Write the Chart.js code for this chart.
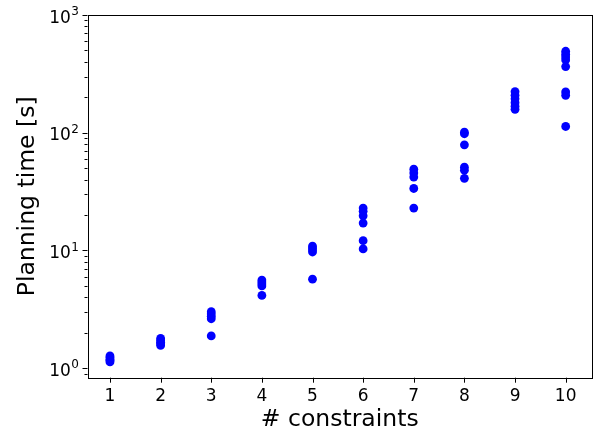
<!DOCTYPE html>
<html>
<head>
<meta charset="utf-8">
<script src="https://cdn.jsdelivr.net/npm/chart.js@4.4.0/dist/chart.umd.min.js"></script>
<style>
  html, body { margin: 0; padding: 0; background: #fff; }
  #wrap { width: 597px; height: 434px; }
</style>
</head>
<body>
<div id="wrap"><canvas id="chart" width="597" height="434"></canvas></div>
<script>
// 约束数量
const constraints = [1, 2, 3, 4, 5, 6, 7, 8, 9, 10];

// 每个约束数量下的规划时间 [s]
const times1 = [1.27, 1.23, 1.19, 1.16, 1.13];
const times2 = [1.79, 1.72, 1.66, 1.61, 1.56];
const times3 = [3.02, 2.88, 2.76, 2.63, 1.88];
const times4 = [5.6, 5.4, 5.2, 5.0, 4.15];
const times5 = [10.9, 10.5, 10.1, 9.7, 5.7];
const times6 = [22.9, 21.5, 19.7, 17.1, 12.1, 10.3];
const times7 = [49, 45.5, 42, 33.6, 22.9];
const times8 = [101, 98, 79, 51, 48, 41];
const times9 = [223, 208, 194, 180, 168, 158];
const times10 = [492, 465, 440, 415, 365, 222, 208, 113];
const timesByCount = [times1, times2, times3, times4, times5, times6, times7, times8, times9, times10];

// 坐标轴刻度
const yMajorTicks = [1, 10, 100, 1000];
const yExponents = ['0', '1', '2', '3'];
const yMinorTicks = [0.9, 2, 3, 4, 5, 6, 7, 8, 9, 20, 30, 40, 50, 60, 70, 80, 90, 200, 300, 400, 500, 600, 700, 800, 900];

const points = [];
constraints.forEach((c, i) => {
    timesByCount[i].forEach(t => points.push({ x: c, y: t }));
});

const FONT = 'DejaVu Sans';

// 画外框、刻度线和刻度标签（matplotlib 风格）
const framePlugin = {
    id: 'frame',
    afterDraw(chart) {
        const { ctx, chartArea: a, scales: { x, y } } = chart;
        ctx.save();
        ctx.strokeStyle = '#000';
        ctx.lineWidth = 1;
        ctx.beginPath();
        constraints.forEach(v => {
            const px = Math.round(x.getPixelForValue(v)) + 0.5;
            ctx.moveTo(px, a.bottom);
            ctx.lineTo(px, a.bottom + 5);
        });
        yMajorTicks.forEach(v => {
            const py = Math.round(y.getPixelForValue(v)) + 0.5;
            ctx.moveTo(a.left - 5, py);
            ctx.lineTo(a.left, py);
        });
        yMinorTicks.forEach(v => {
            const py = Math.round(y.getPixelForValue(v)) + 0.5;
            ctx.moveTo(a.left - 3, py);
            ctx.lineTo(a.left, py);
        });
        ctx.stroke();
        ctx.strokeRect(Math.round(a.left) + 0.5, Math.round(a.top) + 0.5,
            Math.round(a.right - a.left) - 1, Math.round(a.bottom - a.top));

        // x 刻度标签
        ctx.fillStyle = '#000';
        ctx.textBaseline = 'alphabetic';
        ctx.textAlign = 'center';
        ctx.font = `17px "${FONT}"`;
        constraints.forEach(v => {
            ctx.fillText(String(v), x.getPixelForValue(v), a.bottom + 23.3);
        });

        // y 刻度标签：10 的幂，带上标
        ctx.textAlign = 'right';
        yMajorTicks.forEach((v, i) => {
            const py = y.getPixelForValue(v);
            const right = a.left - 8.5;
            ctx.font = `12px "${FONT}"`;
            const w = ctx.measureText(yExponents[i]).width;
            ctx.fillText(yExponents[i], right, py + 0.3);
            ctx.font = `17px "${FONT}"`;
            ctx.fillText('10', right - w - 0.5, py + 7.7);
        });
        ctx.restore();
    }
};

const ctx = document.getElementById('chart').getContext('2d');
new Chart(ctx, {
    type: 'scatter',
    data: {
        datasets: [{
            label: 'planning time',
            data: points,
            backgroundColor: '#0000ff',
            borderWidth: 0,
            pointRadius: 4.4,
            pointHoverRadius: 4.4
        }]
    },
    options: {
        responsive: false,
        animation: false,
        layout: { padding: { left: 0, right: 5, top: 15, bottom: 0 } },
        plugins: {
            legend: { display: false },
            tooltip: { enabled: false }
        },
        scales: {
            x: {
                type: 'linear',
                min: 0.556,
                max: 10.52,
                grid: { display: false },
                border: { display: false },
                afterBuildTicks: scale => {
                    scale.ticks = constraints.map(v => ({ value: v }));
                },
                afterFit: scale => { scale.height = 56.3; },
                ticks: { display: false },
                title: {
                    display: true,
                    text: '# constraints',
                    color: '#000',
                    font: { family: FONT, size: 23.5 },
                    padding: { top: 0, bottom: 0 }
                }
            },
            y: {
                type: 'logarithmic',
                min: 0.83,
                max: 1000,
                grid: { display: false },
                border: { display: false },
                afterBuildTicks: scale => {
                    scale.ticks = yMajorTicks.map(v => ({ value: v, major: true }));
                },
                afterFit: scale => { scale.width = 87.5; },
                ticks: { display: false },
                title: {
                    display: true,
                    text: 'Planning time [s]',
                    color: '#000',
                    font: { family: FONT, size: 23.5 },
                    padding: { top: 14, bottom: 0 }
                }
            }
        }
    },
    plugins: [framePlugin]
});
</script>
</body>
</html>
